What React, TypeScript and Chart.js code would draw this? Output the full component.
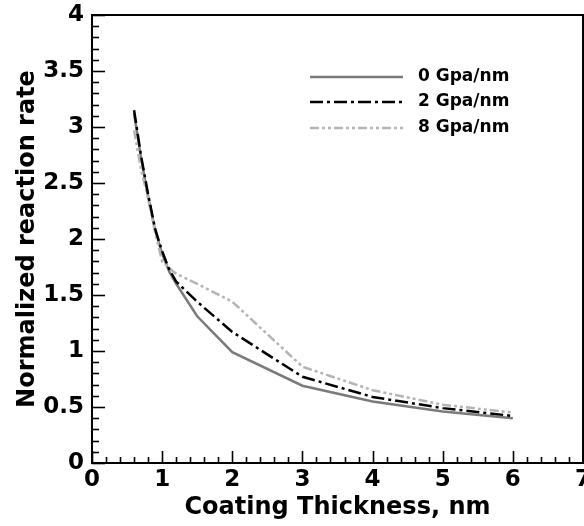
import React, { useEffect, useRef } from "react";
import { Chart, registerables } from "chart.js";

Chart.register(...registerables);

// ---- data ----
const thickness = [0.6, 0.7, 0.8, 0.9, 1.0, 1.1, 1.2, 1.5, 2, 3, 4, 5, 6];
const rate0 = [3.12, 2.72, 2.38, 2.08, 1.87, 1.71, 1.6, 1.31, 0.99, 0.69, 0.55, 0.46, 0.4];
const rate2 = [3.15, 2.74, 2.4, 2.09, 1.89, 1.73, 1.62, 1.44, 1.17, 0.77, 0.59, 0.49, 0.42];
const rate8 = [2.97, 2.62, 2.36, 2.06, 1.8, 1.74, 1.69, 1.6, 1.44, 0.86, 0.65, 0.52, 0.45];
const seriesLabels = ["0 Gpa/nm", "2 Gpa/nm", "8 Gpa/nm"];
const xTitle = "Coating Thickness, nm";
const yTitle = "Normalized reaction rate";

const FONT = "'DejaVu Sans', 'Liberation Sans', Arial, sans-serif";

const styles = [
  { color: "#7a7a7a", dash: [] as number[] },
  { color: "#000000", dash: [13, 4, 3, 4] },
  { color: "#b4b4b4", dash: [9, 3, 3, 3, 3, 3] },
];

const toPoints = (ys: number[]) => thickness.map((x, i) => ({ x, y: ys[i] }));

const framePlugin = {
  id: "frameTicks",
  afterDatasetsDraw(chart: any) {
    const { ctx, chartArea: a, scales } = chart;
    const xs = scales.x;
    const ys = scales.y;
    ctx.save();
    ctx.strokeStyle = "#000";
    ctx.lineWidth = 2;
    ctx.setLineDash([]);
    ctx.strokeRect(a.left, a.top, a.right - a.left, a.bottom - a.top);
    ctx.lineWidth = 1.6;
    for (let i = 0; i <= 35; i++) {
      const px = Math.round(xs.getPixelForValue(i * 0.2)) + 0.5;
      const len = i % 5 === 0 ? 12 : 6;
      ctx.beginPath();
      ctx.moveTo(px, a.bottom);
      ctx.lineTo(px, a.bottom - len);
      ctx.stroke();
    }
    for (let i = 0; i <= 40; i++) {
      const py = Math.round(ys.getPixelForValue(i * 0.1)) + 0.5;
      const len = i % 5 === 0 ? 13 : 7;
      ctx.beginPath();
      ctx.moveTo(a.left, py);
      ctx.lineTo(a.left + len, py);
      ctx.stroke();
    }
    ctx.restore();
  },
};

const legendPlugin = {
  id: "customLegend",
  afterDraw(chart: any) {
    const { ctx } = chart;
    const x0 = 310;
    const x1 = 403;
    const rows = [77, 102, 128];
    ctx.save();
    seriesLabels.forEach((lab, i) => {
      const st = styles[i];
      ctx.strokeStyle = st.color;
      ctx.lineWidth = 2.5;
      ctx.setLineDash(st.dash);
      ctx.beginPath();
      ctx.moveTo(x0, rows[i]);
      ctx.lineTo(x1, rows[i]);
      ctx.stroke();
      ctx.setLineDash([]);
      ctx.fillStyle = "#000";
      ctx.font = `bold 17px ${FONT}`;
      ctx.textBaseline = "middle";
      ctx.textAlign = "left";
      ctx.fillText(lab, 418, rows[i]);
    });
    ctx.restore();
  },
};

export default function App() {
  const ref = useRef<HTMLCanvasElement | null>(null);
  useEffect(() => {
    const canvas = ref.current;
    if (!canvas) return;
    const datasets = [rate0, rate2, rate8].map((ys, i) => ({
      label: seriesLabels[i],
      data: toPoints(ys),
      borderColor: styles[i].color,
      borderDash: styles[i].dash,
      borderWidth: 2.5,
      pointRadius: 0,
      tension: 0,
      fill: false,
      order: i === 1 ? 0 : i === 2 ? 1 : 2,
    }));
    const tickFont = { family: FONT, weight: "bold" as const, size: 23 };
    const chart = new Chart(canvas, {
      type: "line",
      data: { datasets },
      plugins: [framePlugin, legendPlugin],
      options: {
        animation: false,
        responsive: false,
        layout: { padding: { left: 0, right: 1, top: 15, bottom: 0 } },
        plugins: { legend: { display: false }, tooltip: { enabled: false } },
        scales: {
          x: {
            type: "linear",
            min: 0,
            max: 7,
            grid: { display: false, drawTicks: false },
            border: { display: false },
            ticks: {
              stepSize: 1,
              padding: 3,
              color: "#000",
              font: tickFont,
              maxRotation: 0,
              callback: (v: any) => String(v),
            },
            title: {
              display: true,
              text: xTitle,
              color: "#000",
              font: { family: FONT, weight: "bold", size: 24 },
              padding: { top: 0, bottom: 4 },
            },
            afterFit: (s: any) => {
              s.height = 63;
              s.paddingLeft = 0;
              s.paddingRight = 0;
            },
          },
          y: {
            min: 0,
            max: 4,
            grid: { display: false, drawTicks: false },
            border: { display: false },
            ticks: {
              stepSize: 0.5,
              padding: 8,
              color: "#000",
              font: tickFont,
              callback: (v: any) => String(v),
            },
            title: {
              display: true,
              text: yTitle,
              color: "#000",
              font: { family: FONT, weight: "bold", size: 24 },
              padding: { top: 13, bottom: 0 },
            },
            afterFit: (s: any) => {
              s.width = 92;
              s.paddingTop = 0;
              s.paddingBottom = 0;
            },
          },
        },
      },
    });
    return () => chart.destroy();
  }, []);
  return (
    <div style={{ position: "absolute", left: 0, top: 0, width: 584, height: 526, overflow: "hidden", background: "#fff" }}>
      <canvas ref={ref} width={584} height={526} style={{ display: "block" }} />
    </div>
  );
}
